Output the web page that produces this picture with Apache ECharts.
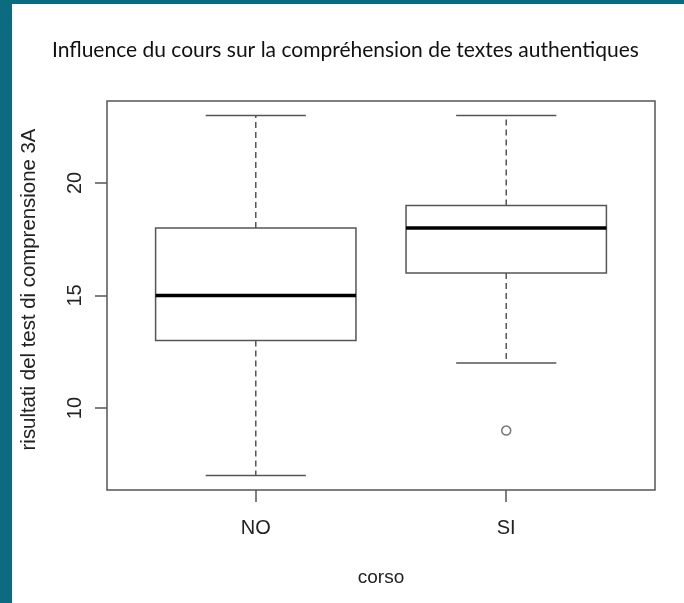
<!DOCTYPE html>
<html>
<head>
<meta charset="utf-8">
<script src="https://cdn.jsdelivr.net/npm/echarts@6/dist/echarts.min.js"></script>
<style>
  html, body { margin: 0; padding: 0; background: #fff; }
  #wrap { position: relative; width: 684px; height: 603px; overflow: hidden; }
  #barLeft { position: absolute; left: 0; top: 0; width: 12px; height: 603px; background: #0b6b81; }
  #barTop { position: absolute; left: 0; top: 0; width: 684px; height: 4px; background: #0b6b81; }
  #main { position: absolute; left: 0; top: 0; width: 684px; height: 603px; }
</style>
</head>
<body>
<div id="wrap">
  <div id="main"></div>
  <div id="barLeft"></div>
  <div id="barTop"></div>
</div>
<script>
// dati del boxplot
const categories = ["NO", "SI"];
const whiskerLow = [7, 12];
const q1 = [13, 16];
const median = [15, 18];
const q3 = [18, 19];
const whiskerHigh = [23, 23];
// outlier: [indice categoria, valore]
const outliers = [[1, 9]];
const yTicks = [10, 15, 20];

const lineCol = "#555";

let chart = echarts.init(document.getElementById("main"));

// righe per la serie custom: [x, min, q1, mediana, q3, max]
let boxData = categories.map(function (c, i) {
  return [i + 1, whiskerLow[i], q1[i], median[i], q3[i], whiskerHigh[i]];
});

function renderBox(params, api) {
  let x = api.value(0);
  let halfBox = api.size([0.8, 0])[0] / 2;
  let halfCap = halfBox / 2;
  let pMin = api.coord([x, api.value(1)]);
  let pQ1 = api.coord([x, api.value(2)]);
  let pMed = api.coord([x, api.value(3)]);
  let pQ3 = api.coord([x, api.value(4)]);
  let pMax = api.coord([x, api.value(5)]);
  let cx = pMed[0];
  let dashed = { stroke: lineCol, lineWidth: 1.5, lineDash: [6, 4] };
  let solid = { stroke: lineCol, lineWidth: 1.5 };
  return {
    type: "group",
    children: [
      { type: "line", shape: { x1: cx, y1: pQ3[1], x2: cx, y2: pMax[1] }, style: dashed },
      { type: "line", shape: { x1: cx, y1: pQ1[1], x2: cx, y2: pMin[1] }, style: dashed },
      { type: "line", shape: { x1: cx - halfCap, y1: pMax[1], x2: cx + halfCap, y2: pMax[1] }, style: solid },
      { type: "line", shape: { x1: cx - halfCap, y1: pMin[1], x2: cx + halfCap, y2: pMin[1] }, style: solid },
      {
        type: "rect",
        shape: { x: cx - halfBox, y: pQ3[1], width: halfBox * 2, height: pQ1[1] - pQ3[1] },
        style: { fill: "#fff", stroke: lineCol, lineWidth: 1.5 }
      },
      { type: "line", shape: { x1: cx - halfBox, y1: pMed[1], x2: cx + halfBox, y2: pMed[1] }, style: { stroke: "#000", lineWidth: 3.5 } }
    ]
  };
}

let option = {
  animation: false,
  title: {
    text: "Influence du cours sur la compréhension de textes authentiques",
    left: 47,
    top: 35,
    textStyle: { fontFamily: "Lato", fontSize: 21, fontWeight: "normal", color: "#111" }
  },
  grid: {
    left: 107, top: 101, width: 548, height: 389,
    show: true, borderColor: lineCol, borderWidth: 1.5, backgroundColor: "#fff"
  },
  xAxis: {
    type: "value",
    min: 0.406,
    max: 2.594,
    splitLine: { show: false },
    axisLine: { show: false },
    axisTick: { show: true, customValues: [1, 2], length: 12, lineStyle: { color: lineCol, width: 1.5 } },
    axisLabel: {
      customValues: [1, 2],
      formatter: function (v) { return categories[Math.round(v) - 1]; },
      fontFamily: "Liberation Sans", fontSize: 20, color: "#222", margin: 28
    },
    name: "corso",
    nameLocation: "middle",
    nameGap: 78,
    nameTextStyle: { fontFamily: "Liberation Sans", fontSize: 19, color: "#222" }
  },
  yAxis: {
    type: "value",
    min: 6.36,
    max: 23.64,
    splitLine: { show: false },
    axisLine: { show: false },
    axisTick: { show: true, customValues: yTicks, length: 12, lineStyle: { color: lineCol, width: 1.5 } },
    axisLabel: {
      customValues: yTicks,
      rotate: 90,
      fontFamily: "Liberation Sans", fontSize: 20, color: "#222", margin: 22
    },
    name: "risultati del test di comprensione 3A",
    nameLocation: "middle",
    nameRotate: 90,
    nameGap: 68,
    nameTextStyle: { fontFamily: "Liberation Sans", fontSize: 20.4, color: "#222", padding: [0, 0, 0, 12] }
  },
  series: [
    {
      type: "custom",
      renderItem: renderBox,
      data: boxData,
      encode: { x: 0, y: [1, 2, 3, 4, 5] },
      z: 2
    },
    {
      type: "scatter",
      data: outliers.map(function (o) { return [o[0] + 1, o[1]]; }),
      symbol: "circle",
      symbolSize: 9,
      itemStyle: { color: "#fff", borderColor: lineCol, borderWidth: 1.5 },
      z: 3
    }
  ]
};

option && chart.setOption(option);
</script>
</body>
</html>
